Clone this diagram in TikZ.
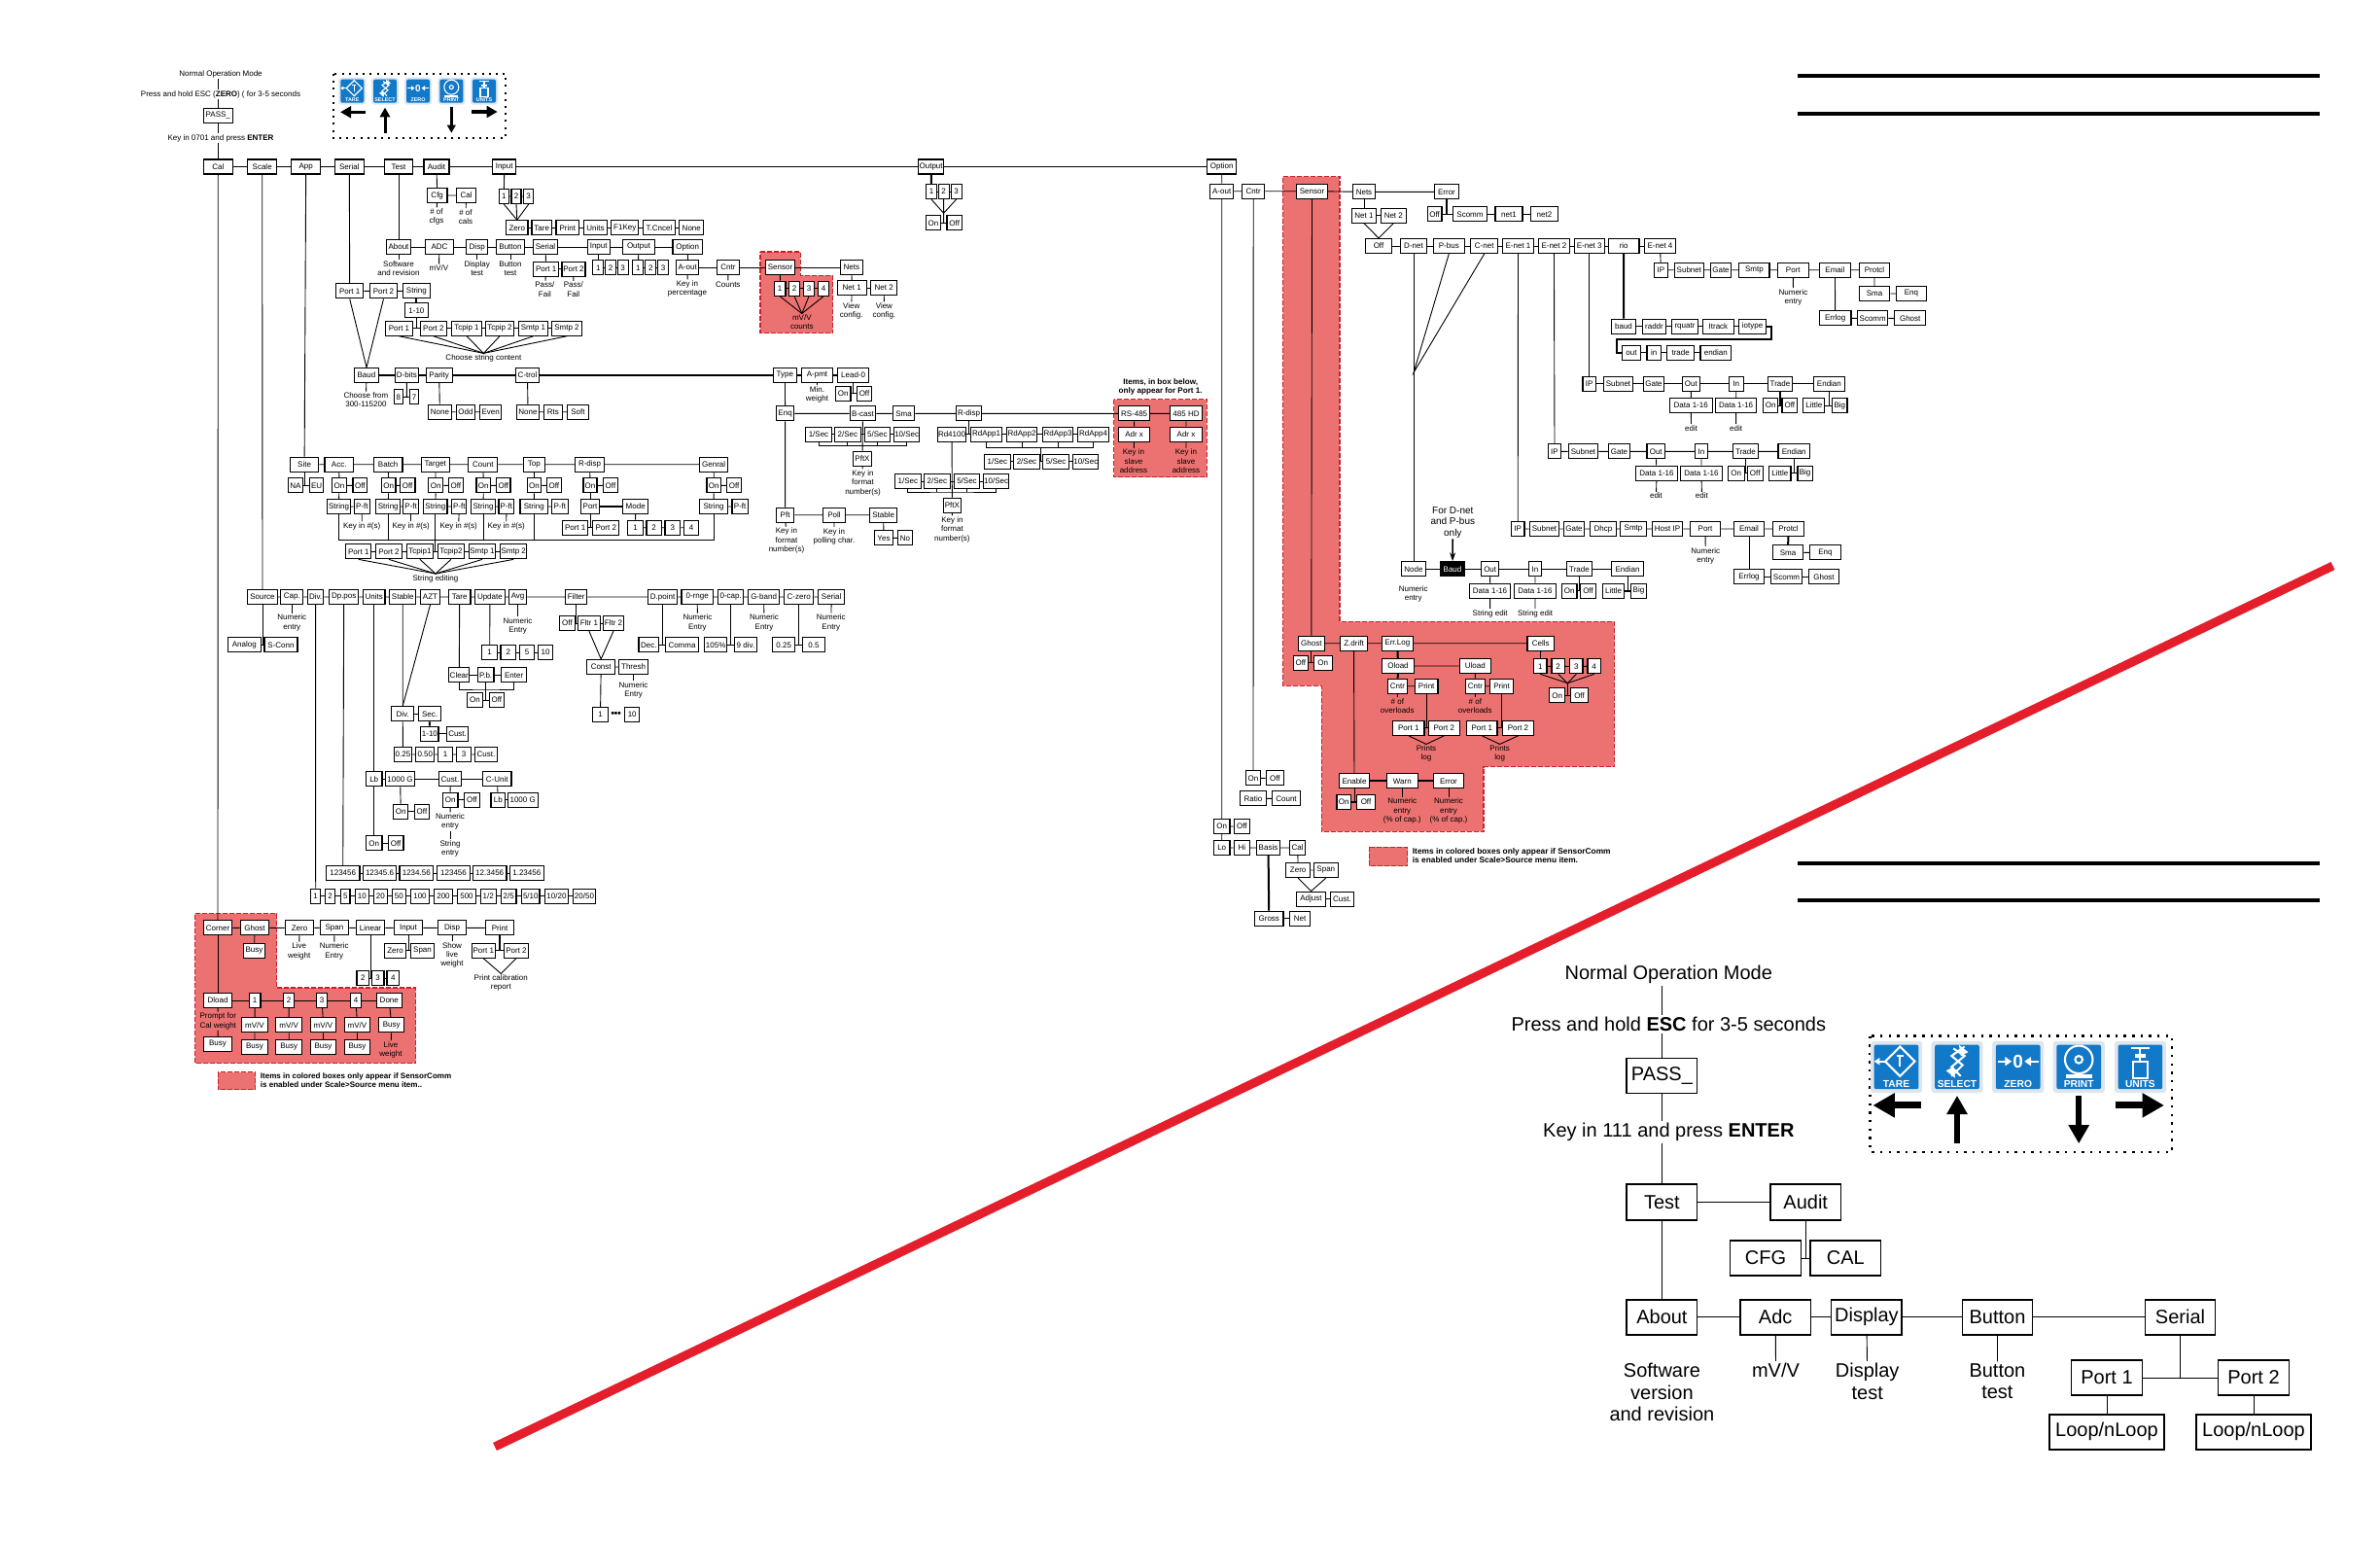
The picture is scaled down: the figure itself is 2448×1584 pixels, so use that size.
\documentclass[tikz,border=0pt]{standalone}
\usepackage{fontspec}
\setmainfont{Liberation Sans}
\usetikzlibrary{arrows.meta}
\definecolor{zonered}{HTML}{EC7272}
\definecolor{zoneedge}{HTML}{C9202F}
\definecolor{slashred}{HTML}{E41E2B}
\definecolor{keyblue}{HTML}{1278C8}
\definecolor{keyhalo}{HTML}{DDE6EE}
\begin{document}
\begin{tikzpicture}[x=1pt,y=-1pt,
  menubox/.style={draw=black,fill=white,line width=1.15pt,inner sep=0pt,minimum height=15pt,font=\fontsize{8}{9.3}\selectfont},
  bigbox/.style={draw=black,fill=white,line width=1.4pt,inner sep=0pt,minimum width=72.5pt,minimum height=36pt,font=\fontsize{20}{22.4}\selectfont},
  notetxt/.style={inner sep=1pt,align=center,font=\fontsize{8}{9.3}\selectfont},
  bignote/.style={inner sep=2pt,align=center,font=\fontsize{20}{22.4}\selectfont},
  wire/.style={line width=0.9pt},
  heavywire/.style={line width=2pt},
  sensorzone/.style={fill=zonered,draw=zoneedge,line width=1.2pt,dash pattern=on 5pt off 2pt},
  legendtxt/.style={anchor=west,inner sep=0pt,align=left,font=\fontsize{#1}{9}\selectfont\bfseries},
  keylabel/.style={inner sep=0pt,text=white,font=\fontsize{5.4}{6}\selectfont\bfseries},
  panelframe/.style={line width=#1,dash pattern=on #1 off 2.6*#1},
  panelarrow/.style={line width=#1,-{Triangle[length=3.2*#1,width=3.4*#1]}}
]

% Canvas size, same pixel grid as the reference
\useasboundingbox (0,0) rectangle (2448,1584);

% --- Row of menu boxes ---
% #1   y of the row
% #2   list of name/x/width/text
\newcommand{\boxrow}[2]{
    \foreach \nm/\cx/\bw/\txt in {#2} {
        \node[menubox,minimum width=\bw pt] (\nm) at (\cx,#1) {\txt};
    }
}
% --- Captions: list of name/x/y/text ---
\newcommand{\noterow}[1]{
    \foreach \nm/\cx/\cy/\txt in {#1} {
        \node[notetxt] (\nm) at (\cx,\cy) {\txt};
    }
}
% --- Front panel key ---
% #1 x, #2 y, #3 scale, #4 label, #5 name, #6 icon
\newcommand{\keycap}[6]{
    \begin{scope}[shift={(#1,#2)},scale=#3,transform shape,line width=#3*1.1pt]
        \fill[keyhalo,rounded corners=3pt] (-14,-14) rectangle (14,14);
        \fill[keyblue,rounded corners=2pt] (-12,-12) rectangle (12,12);
        \node[keylabel] (#5) at (0,9) {#4};
        \begin{scope}[white]
            #6
        \end{scope}
    \end{scope}
}
\newcommand{\tareicon}{
    \draw (2,-11)--(10,-3)--(2,5)--(-6,-3)--cycle;
    \draw (0,-6)--(4,-6) (2,-6)--(2,0);
    \draw (-11,-3)--(-6,-3);
    \fill (-12,-3)--(-9,-5)--(-9,-1)--cycle;
}
\newcommand{\selecticon}{
    \draw (4,-11)--(-3,-6)--(3,-1)--(-3,5);
    \draw (-2,-10)--(4,-6)--(-3,0)--(2,5);
    \fill (1,-12)--(6,-8)--(2,-6)--cycle;
    \fill (-1,6)--(-6,2)--(-2,0)--cycle;
}
\newcommand{\zeroicon}[1]{
    \node[keylabel,font=\fontsize{10}{10}\selectfont\bfseries] (#1) at (0,-3) {0};
    \draw (-11,-3)--(-6,-3) (11,-3)--(6,-3);
    \fill (-3.5,-3)--(-7,-5.5)--(-7,-0.5)--cycle;
    \fill (3.5,-3)--(7,-5.5)--(7,-0.5)--cycle;
}
\newcommand{\printicon}{
    \draw (0,-4) circle (7.5);
    \draw (0,-4) circle (2);
    \fill (-7,4) rectangle (7,6);
}
\newcommand{\unitsicon}{
    \draw (-4,-3) rectangle (4,6);
    \draw (-5,-10)--(5,-10) (0,-10)--(0,-3);
    \fill (-3,-7) rectangle (3,-5);
}

% --- Slash and rules ---
\draw[slashred,line width=9pt] (509,1488) -- (2399.5,582);
\foreach \ry in {78,117,888.3,925.8} {
    \draw[line width=4pt] (1848.6,\ry) -- (2385.6,\ry);
}

% --- SensorComm zones ---
\draw[sensorzone] (200.7,939.7) -- (284.7,939.7) -- (284.7,1016) -- (427.7,1016) -- (427.7,1093.7) -- (200.7,1093.7) -- cycle;
\draw[sensorzone] (782,259) -- (823.2,259) -- (823.2,283.3) -- (856.5,283.3) -- (856.5,342.7) -- (782,342.7) -- cycle;
\draw[sensorzone] (1145.5,410.7) rectangle (1241.2,490.7);
\draw[sensorzone] (1319.5,181.7) -- (1378,181.7) -- (1378,639.3) -- (1660.7,639.3) -- (1660.7,788.7) -- (1526,788.7) -- (1526,855.3) -- (1359.3,855.3) -- (1359.3,705.3) -- (1319.5,705.3) -- cycle;
\draw[sensorzone] (224.3,1102.7) rectangle (262.7,1120.7);
\draw[sensorzone] (1408.3,871.3) rectangle (1447.7,890.7);
\node[legendtxt=8.05] (legcal) at (267.7,1111.2) {Items in colored boxes only appear if SensorComm\\is enabled under Scale>Source menu item..};
\node[legendtxt=8.35] (legopt) at (1452.7,880.5) {Items in colored boxes only appear if SensorComm\\is enabled under Scale>Source menu item.};
\node[notetxt,font=\fontsize{8.1}{9.3}\selectfont\bfseries] (legport) at (1193.7,397.7) {Items, in box below,\\only appear for Port 1.};

% --- Small key panel ---
\draw[panelframe=2pt] (342.7,76) rectangle (520,141.7);
\keycap{362.3}{93.7}{1}{TARE}{smtare}{\tareicon}
\keycap{396}{93.7}{1}{SELECT}{smselect}{\selecticon}
\keycap{430}{93.7}{1}{ZERO}{smzero}{\zeroicon{smzeroglyph}}
\keycap{464.3}{93.7}{1}{PRINT}{smprint}{\printicon}
\keycap{498}{93.7}{1}{UNITS}{smunits}{\unitsicon}
\draw[panelarrow=3.5pt] (376,115.3) -- (350,115.3);
\draw[panelarrow=3pt] (396,136.7) -- (396,110.7);
\draw[panelarrow=2.5pt] (464.3,110) -- (464.3,136.7);
\draw[panelarrow=3.5pt] (485,115) -- (511.7,115);

% --- Large key panel ---
\draw[panelframe=2.4pt] (1923.6,1065.5) rectangle (2234,1184.8);
\keycap{1950.5}{1097.4}{1.9}{TARE}{bgtare}{\tareicon}
\keycap{2013}{1097.4}{1.9}{SELECT}{bgselect}{\selecticon}
\keycap{2075.7}{1097.4}{1.9}{ZERO}{bgzero}{\zeroicon{bgzeroglyph}}
\keycap{2138.2}{1097.4}{1.9}{PRINT}{bgprint}{\printicon}
\keycap{2201.4}{1097.4}{1.9}{UNITS}{bgunits}{\unitsicon}
\draw[panelarrow=7pt] (1976.4,1136.9) -- (1926.4,1136.9);
\draw[panelarrow=6pt] (2013,1176.2) -- (2013,1126.9);
\draw[panelarrow=6pt] (2138.2,1126.9) -- (2138.2,1176.2);
\draw[panelarrow=7pt] (2176.1,1136.9) -- (2226,1136.9);

% --- Entry at top left ---
\noterow{normaltxt/227/76/Normal Operation Mode,
  presstxt/227/97/Press and hold ESC (\textbf{ZERO}) ( for 3-5 seconds,
  keytxt/227/142/Key in 0701 and press \textbf{ENTER}}
\boxrow{118.7}{passbox/224.3/30/PASS\_}

% --- Main menu row ---
\boxrow{171.5}{cal/224.3/30/Cal,scale/269.7/30/Scale,app/314.7/30/App,serial/359.3/30/Serial,test/410/29/Test,audit/449/26/Audit,input/518.7/24/Input,output/957.6/26/Output,option/1256.7/30/Option}
\draw[wire] (passbox |- normaltxt.south) -- (passbox |- presstxt.north);
\draw[wire] (passbox |- presstxt.south) -- (passbox.north);
\draw[wire] (passbox.south) -- (passbox |- keytxt.north);
\draw[wire] (passbox |- keytxt.south) -- (cal.north);
\draw[wire] (cal) -- (scale) -- (app) -- (serial) -- (test) -- (audit) -- (input) -- (output) -- (option);

% --- Audit and Input ---
\boxrow{201}{cfg/449.7/20.7/Cfg,calcount/479.5/20/Cal}
\noterow{cfgnote/449/223/\# of\\cfgs,calnote/479/223/\# of\\cals}
\boxrow{202}{inone/518.3/10/1,intwo/531/10/2,inthree/543.7/10/3}
\boxrow{234.3}{inzero/531.8/22.4/Zero,intare/557.2/20.5/Tare,inprint/583.8/23.6/Print,inunits/612.5/24/Units,inf1key/642.8/28/F1Key,intcncel/678/33.5/T.Cncel,innone/711.3/25/None}
\draw[wire] (audit) -- (cfg) -- (calcount) (cfg) -- (cfgnote) (calcount) -- (calnote);
\draw[wire] (input) -- (inone) -- (intwo) -- (inthree);
\foreach \nm in {inone,intwo,inthree} {
    \draw[wire] (\nm.south) -- (inzero.north);
}
\draw[wire] (inzero) -- (intare) -- (inprint) -- (inunits) -- (inf1key) -- (intcncel) -- (innone);

% --- Test branch ---
\boxrow{254}{about/410/24.5/About,adc/452/29/ADC,disp/490.7/22.3/Disp,button/525/29/Button,tser/561/24.5/Serial,tin/615.7/23/Input,tout/657/32.6/Output,topt/707.2/30.4/Option}
\noterow{aboutnote/410/276/Software\\and revision,adcnote/451.4/275.7/{mV/V},dispnote/490.7/276/Display\\test,buttonnote/525/276/Button\\test}
\boxrow{276.7}{tsport1/561.7/26/Port 1,tsport2/590/24/Port 2}
\noterow{tsnote1/560.4/297.7/{Pass/\\Fail},tsnote2/589.8/297.7/{Pass/\\Fail}}
\boxrow{275.3}{tinone/615.3/11/1,tintwo/628.2/11/2,tinthree/640.7/11/3,toutone/656.3/11/1,touttwo/669.3/11/2,toutthree/682.2/11/3}
\boxrow{275}{taout/707.2/23/A-out,tcntr/749/22.8/Cntr,tsensor/802.5/30/Sensor,tnets/875.9/23.3/Nets}
\noterow{taoutnote/707/297/Key in\\percentage,tcntrnote/748.8/292.3/Counts}
\boxrow{296.7}{tsone/802.2/11.5/1,tstwo/817.1/11.5/2,tsthree/832/11.5/3,tsfour/847/11.5/4}
\noterow{tsmvnote/824.8/331.3/{mV/V\\counts},tnet1note/875.7/320/View\\config.,tnet2note/909.4/320/View\\config.}
\boxrow{296}{tnet1/876.2/30/Net 1,tnet2/909.2/27/Net 2}
\draw[wire] (test) -- (about) -- (adc) -- (disp) -- (button) -- (tser) -- (tin) -- (tout) -- (topt);
\foreach \a/\b in {about/aboutnote,adc/adcnote,disp/dispnote,button/buttonnote,tser/tsport1,tsport1/tsnote1,tsport2/tsnote2,tin/tinone,tout/toutone,topt/taout,taout/taoutnote,tcntr/tcntrnote,tsensor/tsone,tnets/tnet1,tnet1/tnet1note,tnet2/tnet2note} {
    \draw[wire] (\a) -- (\b);
}
\draw[wire] (tsport1) -- (tsport2);
\draw[wire] (tinone) -- (tintwo) -- (tinthree);
\draw[wire] (toutone) -- (touttwo) -- (toutthree);
\draw[wire] (taout) -- (tcntr) -- (tsensor) -- (tnets);
\draw[wire] (tsone) -- (tstwo) -- (tsthree) -- (tsfour) (tnet1) -- (tnet2);
\foreach \nm in {tsone,tstwo,tsthree,tsfour} {
    \draw[wire] (\nm.south) -- (tsmvnote.north);
}

% --- Output and Option heads ---
\boxrow{197}{outone/958/11/1,outtwo/970.6/11/2,outthree/983.6/11/3}
\boxrow{229.3}{outon/959.9/15/On,outoff/981.7/15.3/Off}
\coordinate (outmeet) at (970.6,219.3);
\draw[heavywire] (output) -- (outone);
\draw[wire] (outone) -- (outtwo) -- (outthree) (outon) -- (outoff);
\draw[wire] (outone.south) -- (outmeet) -- (outthree.south) (outtwo.south) -- (outtwo |- outon);

% --- Serial branch ---
\boxrow{299.3}{sport1/359.7/28/Port 1,sport2/394.5/28/Port 2,sstring/428.4/28/String}
\boxrow{319.3}{sonetoten/428.4/23.7/1-10}
\boxrow{337.7}{stport1/410.5/28/Port 1,stport2/445.9/27.3/Port 2,sttcp1/480/30.4/Tcpip 1,sttcp2/514/29/Tcpip 2,stsmtp1/548.5/30/Smtp 1,stsmtp2/583/31/Smtp 2}
\noterow{choosenote/497.4/368.3/Choose string content,baudnote/376.4/411.3/Choose from\\300-115200}
\boxrow{386}{sbaud/377/24.5/Baud,dbits/418.4/24/D-bits,parity/451.7/27.2/Parity,ctrol/542.5/23.2/C-trol,stype/807.4/23.7/Type,apmt/840.5/32/A-pmt,leadzero/877.6/32/Lead-0}
\boxrow{408.3}{dbeight/409.9/9.4/8,dbseven/426/9.4/7}
\boxrow{423.7}{pnone/452.4/24/None,podd/478.9/19.2/Odd,peven/504.7/21.9/Even,cnone/543/23.3/None,crts/568.8/18.7/Rts,csoft/594.5/21.8/Soft}
\noterow{apmtnote/840.5/405.7/Min.\\weight}
\boxrow{404.7}{leadon/867.3/15.3/On,leadoff/889/15.3/Off}
\draw[wire] (serial) -- (sport1) -- (sport2) -- (sstring);
\draw[heavywire] (sstring) -- (sonetoten);
\draw[wire] (sonetoten) -- (sonetoten |- stport1);
\draw[wire] (stport1) -- (stport2) -- (sttcp1) -- (sttcp2) -- (stsmtp1) -- (stsmtp2);
\foreach \nm in {stport1,stport2,sttcp1,sttcp2,stsmtp1,stsmtp2} {
    \draw[wire] (\nm.south) -- (choosenote.north);
}
\draw[wire] (sport1.south) -- (sbaud.north) (sport2.south) -- (sbaud.north);
\draw[heavywire] (sbaud) -- (dbits) -- (parity) -- (ctrol) -- (stype) -- (apmt) -- (leadzero);
\draw[wire] (sbaud) -- (baudnote) (dbits) -- (dbits |- dbeight) (dbeight) -- (dbseven);
\draw[wire] (parity) -- (pnone) -- (podd) -- (peven);
\draw[wire] (ctrol) -- (cnone) -- (crts) -- (csoft);
\draw[wire] (apmt) -- (apmtnote) (leadzero) -- (leadzero |- leadon) (leadon) -- (leadoff);

% --- Enq, B-cast, R-disp ---
\boxrow{425.3}{enq/807.6/18.3/Enq,bcast/887.5/26.8/B-cast,sma/929.5/22.5/Sma,rdisp/996.6/26/R-disp,rsport/1166.6/32/RS-485,hdport/1220/33/485 HD}
\boxrow{446.7}{bcsec1/842/26.8/{1/Sec},bcsec2/871.9/26.8/{2/Sec},bcsec3/902.3/26.4/{5/Sec},bcsec4/932.7/26/{10/Sec},rdfour/979/28.7/Rd4100,rdapp1/1014.6/32/RdApp1,rdapp2/1051/31.8/RdApp2,rdapp3/1088/31.4/RdApp3,rdapp4/1124.6/31.8/RdApp4,rsadr/1166.6/32/Adr x,hdadr/1220/33/Adr x}
\noterow{rsnote/1166/474.3/Key in\\slave\\address,hdnote/1220/474.3/Key in\\slave\\address}
\boxrow{471.7}{bcpftx/887/18.7/PftX}
\noterow{bcnote/887.5/496.7/Key in\\format\\number(s)}
\boxrow{474.7}{rasec1/1025.9/26.4/{1/Sec},rasec2/1056/27.2/{2/Sec},rasec3/1086.2/26.8/{5/Sec},rasec4/1116.8/26/{10/Sec}}
\boxrow{495}{rdsec1/933.9/26.8/{1/Sec},rdsec2/963.9/27.2/{2/Sec},rdsec3/994.5/26.4/{5/Sec},rdsec4/1024.6/26/{10/Sec}}
\boxrow{519.7}{rdpftx/979.4/18.4/PftX}
\noterow{rdnote/979.4/544.7/Key in\\format\\number(s)}
\boxrow{529.7}{pft/807.6/18.3/Pft,poll/858/23/Poll,stable/908.6/27.6/Stable}
\boxrow{553.3}{stableyes/909/19/Yes,stableno/931/15.3/No}
\noterow{pftnote/809/556/Key in\\format\\number(s),pollnote/858/551.7/Key in\\polling char.}
\coordinate (bcbar) at (887.5,458.3);
\coordinate (rabar) at (1070,460.3);
\coordinate (rdbar) at (979.4,506);
\draw[wire] (stype) -- (enq) -- (bcast) -- (sma) -- (rdisp) -- (rsport) -- (hdport);
\draw[wire] (enq) -- (pft) -- (poll) -- (stable) -- (stableyes) -- (stableno);
\draw[wire] (pft) -- (pftnote) (poll) -- (pollnote);
\draw[wire] (bcsec1) -- (bcsec2) -- (bcsec3) -- (bcsec4);
\draw[wire] (bcsec1.south) |- (bcbar) -| (bcsec4.south);
\draw[wire] (bcsec2.south) -- (bcsec2 |- bcbar) (bcsec3.south) -- (bcsec3 |- bcbar);
\draw[wire] (bcast) -- (bcpftx) -- (bcnote);
\draw[wire] (rdisp) -- (rdisp |- rdapp1);
\draw[wire] (rdfour) -- (rdapp1) -- (rdapp2) -- (rdapp3) -- (rdapp4);
\draw[wire] (rdapp1.south) |- (rabar) -| (rdapp4.south);
\draw[wire] (rdapp2.south) -- (rdapp2 |- rabar) (rdapp3.south) -- (rdapp3 |- rabar);
\draw[wire] (rabar) -- (rabar |- rasec2);
\draw[wire] (rasec1) -- (rasec2) -- (rasec3) -- (rasec4);
\draw[wire] (rdfour) -- (rdpftx) -- (rdnote);
\draw[wire] (rdsec1) -- (rdsec2) -- (rdsec3) -- (rdsec4);
\draw[wire] (rdsec1.south) |- (rdbar) -| (rdsec4.south);
\draw[wire] (rdsec2.south) -- (rdsec2 |- rdbar) (rdsec3.south) -- (rdsec3 |- rdbar);
\draw[wire] (rsport) -- (rsadr) -- (rsnote) (hdport) -- (hdadr) -- (hdnote);

% --- App branch ---
\boxrow{477.7}{site/313.1/29.4/Site,acc/348.7/29.4/Acc.,batch/399.2/29.5/Batch,target/447.8/28.7/Target,count/496.8/30.2/Count,topw/549.4/22.2/Top,ardisp/606.6/29.5/R-disp,genral/734.2/29.1/Genral}
\boxrow{499.3}{sitena/304/14.6/NA,siteeu/325.7/14.1/EU,aon1/348.9/15.3/On,aoff1/370.3/14.6/Off,aon2/399.8/14.5/On,aoff2/419.2/15.7/Off,aon3/448.2/15/On,aoff3/468.9/14.9/Off,aon4/497.3/14.6/On,aoff4/517.9/14.1/Off,aon5/549.5/14.5/On,aoff5/569.9/15/Off,aon6/607/14.1/On,aoff6/628/14.9/Off,aon7/734.3/14.5/On,aoff7/755.1/14.9/Off}
\boxrow{521}{astr1/348.5/23.8/String,apft1/372.3/16/P-ft,astr2/399.2/24.8/String,apft2/422.7/16/P-ft,astr3/447.9/24.1/String,apft3/472.3/15/P-ft,astr4/497.1/24.9/String,apft4/520.9/15.8/P-ft,astr5/549.3/28.7/String,apft5/575.8/16.8/P-ft,aport/607/19.5/Port,amode/653.7/25.6/Mode,astr7/734/28.7/String,apft7/761.2/16.5/P-ft}
\noterow{keynote1/372.2/541.3/Key in \#(s),keynote2/422.7/541.3/Key in \#(s),keynote3/471.7/541.3/Key in \#(s),keynote4/520.7/541.3/Key in \#(s)}
\boxrow{542.7}{aport1/591.7/25.6/Port 1,aport2/623.3/26.8/Port 2,amodeone/653.5/15.3/1,amodetwo/672.7/15.3/2,amodethree/691.9/15.8/3,amodefour/711/15.3/4}
\boxrow{567.3}{edport1/368.8/26/Port 1,edport2/400/27.2/Port 2,edtcp1/432/27.2/Tcpip1,edtcp2/463.9/27.2/Tcpip2,edsmtp1/496/27.2/Smtp 1,edsmtp2/528.2/27.2/Smtp 2}
\noterow{editnote/448/595/String editing}
\coordinate (appbus) at (448,555.3);
\draw[wire] (app) -- (site) -- (acc) -- (batch) -- (target) -- (count) -- (topw) -- (ardisp) -- (genral);
\draw[wire] (site) -- (site |- sitena) (sitena) -- (siteeu);
\foreach \a/\i in {acc/1,batch/2,target/3,count/4,topw/5,ardisp/6,genral/7} {
    \draw[wire] (\a) -- (aon\i) -- (aoff\i);
}
\foreach \i in {1,2,3,4,5,7} {
    \draw[wire] (aon\i) -- (astr\i) -- (apft\i);
}
\foreach \i in {1,2,3,4} {
    \draw[wire] (apft\i) -- (keynote\i);
}
\draw[wire] (aon6) -- (aport);
\draw[heavywire] (aport) -- (amode);
\draw[wire] (aport) -- (aport |- aport1) (aport1) -- (aport2);
\draw[wire] (amode) -- (amodeone) -- (amodetwo) -- (amodethree) -- (amodefour);
\draw[wire] (astr1.south) |- (appbus) -| (astr7.south);
\foreach \i in {2,4,5} {
    \draw[wire] (astr\i.south) -- (astr\i |- appbus);
}
\draw[wire] (astr3.south) -- (astr3 |- edport1);
\draw[wire] (edport1) -- (edport2) -- (edtcp1) -- (edtcp2) -- (edsmtp1) -- (edsmtp2);
\foreach \nm in {edport1,edport2,edtcp1,edtcp2,edsmtp1,edsmtp2} {
    \draw[wire] (\nm.south) -- (editnote.north);
}

% --- Scale branch ---
\boxrow{614}{source/270/31/Source,cap/300.3/23/Cap.,sdiv/324.6/16.4/Div.,dppos/353.7/30.2/Dp.pos,units/384.7/22.6/Units,sstable/414.3/26.8/Stable,azt/442.5/20.3/AZT,tare/472.7/22.6/Tare,update/503.9/30.6/Update,avg/532.6/18.4/Avg,filter/592.7/22.2/Filter,dpoint/681.6/30.3/D.point,zrnge/717.2/32.5/0-rnge,zcap/751.7/25.6/0-cap.,gband/785.6/32.1/G-band,czero/821.7/30.2/C-zero,sserial/855.2/26.8/Serial}
\boxrow{663.3}{analog/251.3/34/Analog,sconn/289/34/S-Conn,dec/667.3/20.6/Dec.,comma/701.5/34/Comma,capover/736.2/23/105\%,capdiv/767/22.6/9 div.,czlow/806.2/23/0.25,czhigh/837/23.4/0.5}
\noterow{capnote/300.3/640.3/Numeric\\entry,avgnote/532.6/644/Numeric\\Entry,rngenote/717.4/640.3/Numeric\\Entry,gbandnote/786/640.3/Numeric\\Entry,sernote/854.8/640.3/Numeric\\Entry}
\boxrow{641}{fltoff/583.5/15.3/Off,fltone/605.9/22.6/Fltr 1,flttwo/631/20.7/Fltr 2}
\boxrow{671}{upone/503.7/15.7/1,uptwo/522.8/15.7/2,upfive/542/15.7/5,upten/561/15.4/10}
\boxrow{694.3}{tclear/472.3/21/Clear,tpb/499.6/16.8/P.b.,tenter/528.6/26.4/Enter}
\boxrow{720}{tareon/488.5/15.3/On,tareoff/510.8/15.3/Off}
\boxrow{686}{fconst/618.2/28.7/Const,fthresh/651.6/29.8/Thresh}
\noterow{threshnote/651.6/710/Numeric\\Entry}
\boxrow{735}{fone/617.5/15.3/1,ften/650.2/15/10}
\node[notetxt,font=\fontsize{11}{11}\selectfont] (fdots) at (633.6,735) {\textbullet\kern-0.5pt\textbullet\kern-0.5pt\textbullet};
\boxrow{734.3}{stdiv/414.2/23.3/Div.,stsec/442/22.6/Sec.}
\boxrow{754.7}{secrange/441.9/18.3/1-10,seccust/470.6/22.2/Cust.}
\boxrow{776}{dva/414.5/18.8/0.25,dvb/437.3/19.2/0.50,dvc/458.1/15/1,dvd/477.2/15/3,dve/500/23/Cust.}
\boxrow{801.3}{ulb/384.7/16.5/Lb,ukg/411.6/30.6/1000 G,ucust/463/23.4/Cust.,ucunit/511.3/29.4/C-Unit}
\boxrow{834.7}{ukon/412.3/15/On,ukoff/434/15/Off}
\boxrow{822.7}{ucon/463.3/15.3/On,ucoff/485.3/15.7/Off,cunitlb/512.3/14.6/Lb,cunitkg/537.7/31/1000 G}
\noterow{uconnote/463/845/Numeric\\entry,ustrnote/463/872.7/String\\entry}
\boxrow{867.3}{ulbon/384.7/16.5/On,ulboff/407.2/15.7/Off}
\boxrow{898}{dpa/352.7/34.7/123456,dpb/390.5/34.3/12345.6,dpc/428.3/34.5/1234.56,dpd/466.5/34.4/123456,dpe/503.7/34.7/12.3456,dpf/541.8/35/1.23456}
\boxrow{921.7}{dsa/324.7/10/1,dsb/339.7/10/2,dsc/355.3/9.3/5,dsd/372.3/14/10,dse/391.3/14/20,dsf/410.3/14/50,dsg/432/19.4/100,dsh/456/19.4/200,dsi/480/19.4/500,dsj/502.3/16/{1/2},dsk/523.2/15.7/{2/5},dsl/545.8/18.3/{5/10},dsm/572.5/24.4/{10/20},dsn/601/23.4/{20/50}}
\draw[wire] (scale) -- (source) -- (cap) -- (sdiv) -- (dppos) -- (units) -- (sstable) -- (azt) -- (tare) -- (update) -- (avg) -- (filter) -- (dpoint) -- (zrnge) -- (zcap) -- (gband) -- (czero) -- (sserial);
\draw[wire] (source) -- (source |- analog) (analog) -- (sconn);
\foreach \a/\b in {cap/capnote,avg/avgnote,zrnge/rngenote,gband/gbandnote,sserial/sernote,sdiv/dsa,dppos/dpa,units/ulb,sstable/stdiv,tare/tclear,update/upone,fconst/fone,fthresh/threshnote,ulb/ulbon,ukg/ukon,ucust/ucon,ucon/uconnote,uconnote/ustrnote,ucunit/cunitlb} {
    \draw[wire] (\a) -- (\b);
}
\draw[wire] (dpoint) -- (dpoint |- dec) (dec) -- (comma);
\draw[wire] (zcap) -- (zcap |- capover) (capover) -- (capdiv);
\draw[wire] (czero) -- (czero |- czlow) (czlow) -- (czhigh);
\draw[wire] (filter) -- (filter |- fltoff) (fltoff) -- (fltone) -- (flttwo);
\draw[wire] (fltone.south) -- (fconst.north) (flttwo.south) -- (fconst.north) (fconst) -- (fthresh);
\draw[wire] (upone) -- (uptwo) -- (upfive) -- (upten);
\coordinate (tarebar) at (499.7,709);
\draw[wire] (tclear) -- (tpb) -- (tenter);
\draw[wire] (tclear.south) |- (tarebar) -| (tenter.south);
\draw[wire] (tpb.south) -- (tpb |- tareon) (tareon) -- (tareoff);
\draw[wire] (azt.south) -- (stdiv.north);
\draw[wire] (stdiv) -- (stsec) (secrange) -- (seccust);
\draw[heavywire] (stsec) -- (secrange);
\draw[wire] (stdiv) -- (dva) -- (dvb) -- (dvc) -- (dvd) -- (dve);
\draw[wire] (ulb) -- (ukg) -- (ucust) -- (ucunit);
\draw[wire] (ulbon) -- (ulboff) (ukon) -- (ukoff) (ucon) -- (ucoff) (cunitlb) -- (cunitkg);
\draw[wire] (dpa) -- (dpb) -- (dpc) -- (dpd) -- (dpe) -- (dpf);
\draw[wire] (dsa) -- (dsb) -- (dsc) -- (dsd) -- (dse) -- (dsf) -- (dsg) -- (dsh) -- (dsi) -- (dsj) -- (dsk) -- (dsl) -- (dsm) -- (dsn);

% --- Cal branch ---
\boxrow{954.3}{corner/224/29.4/Corner,cghost/262/29.4/Ghost,czeroc/308/29.4/Zero,cspan/344/29.4/Span,clinear/381/29.4/Linear,cinput/420/29.4/Input,cdisp/465/29.4/Disp,cprint/514/29.4/Print}
\boxrow{977.7}{cbusy/261.5/22.4/Busy,cizero/406.5/22.4/Zero,cispan/434.5/24.4/Span,cpport1/497.3/24/Port 1,cpport2/531/24.6/Port 2}
\noterow{clivenote/307.7/978.3/Live\\weight,cspannote/343.7/978.3/Numeric\\Entry,cshownote/465/982.3/Show\\live\\weight,cprintnote/515.3/1011/Print calibration\\report}
\boxrow{1006}{lintwo/373.3/12.5/2,linthree/388.7/12.5/3,linfour/404.3/12.5/4}
\boxrow{1029}{dload/224/29.4/Dload,dlone/262.2/11.7/1,dltwo/297/11.4/2,dlthree/331.2/11/3,dlfour/366/11.4/4,dldone/400.3/26/Done}
\boxrow{1054.3}{dmv1/262/27.4/{mV/V},dmv2/297.2/27/{mV/V},dmv3/332.5/26.4/{mV/V},dmv4/367.5/26.4/{mV/V},dmbusy/402.7/26/Busy}
\boxrow{1077}{dbusy1/262/27.4/Busy,dbusy2/297.2/27/Busy,dbusy3/332.5/26.4/Busy,dbusy4/367.5/26.4/Busy}
\boxrow{1074}{dlbusy/224/29.4/Busy}
\noterow{dpromptnote/224.3/1050.3/Prompt for\\Cal weight,dlivenote/402/1080/Live\\weight}
\draw[wire] (cal) -- (corner) -- (cghost) -- (czeroc) -- (cspan) -- (clinear) -- (cinput) -- (cdisp) -- (cprint);
\foreach \a/\b in {cghost/cbusy,czeroc/clivenote,cspan/cspannote,cdisp/cshownote,corner/dload,dload/dpromptnote,dpromptnote/dlbusy,dmbusy/dlivenote} {
    \draw[wire] (\a) -- (\b);
}
\draw[wire] (clinear) -- (clinear |- lintwo) (lintwo) -- (linthree) -- (linfour);
\draw[wire] (cinput) -- (cinput |- cizero) (cizero) -- (cispan);
\draw[heavywire] (cprint) -- (cprint |- cpport1);
\draw[wire] (cpport1) -- (cpport2);
\draw[wire] (cpport1.south) -- (cprintnote.north) (cpport2.south) -- (cprintnote.north);
\draw[wire] (dload) -- (dlone) -- (dltwo) -- (dlthree) -- (dlfour) -- (dldone);
\foreach \a/\i in {dlone/1,dltwo/2,dlthree/3,dlfour/4} {
    \draw[wire] (\a) -- (dmv\i) -- (dbusy\i);
}
\draw[wire] (dldone) -- (dmbusy);

% --- Option branch ---
\boxrow{196.7}{oaout/1256.7/24/A-out,ocntr/1289.2/23.4/Cntr,osensor/1349.5/31.4/Sensor}
\boxrow{197.3}{onets/1403/23.2/Nets,oerror/1488/25/Error}
\boxrow{800.3}{cntron/1289/15/On,cntroff/1311.3/18/Off}
\boxrow{821.3}{ratio/1289/26.7/Ratio,rcount/1323/29.3/Count}
\boxrow{850}{aouton/1256.7/16.7/On,aoutoff/1277.3/16.3/Off}
\boxrow{872}{lo/1256.7/16.7/Lo,hi/1277.3/16.3/Hi,basis/1304.5/24.3/Basis,bcal/1334.7/16/Cal}
\boxrow{895}{bzero/1335.2/25/Zero,bspan/1363.8/25/Span}
\boxrow{924.7}{adjust/1348.5/29.7/Adjust,adjcust/1380.5/24.3/Cust.}
\boxrow{944.7}{gross/1305.3/29.3/Gross,net/1337/20.7/Net}
\draw[wire] (option) -- (oaout) -- (ocntr) -- (osensor) -- (onets) -- (oerror);
\draw[wire] (oaout) -- (aouton) -- (aoutoff) (aouton) -- (lo) -- (hi) -- (basis) -- (bcal) -- (bzero) -- (bspan);
\draw[wire] (ocntr) -- (cntron) -- (cntroff) (ratio) -- (rcount);
\draw[heavywire] (basis) -- (gross);
\draw[wire] (gross) -- (net) (adjust) -- (adjcust);
\draw[wire] (bzero.south) -- (adjust.north) (bspan.south) -- (adjust.north);

% --- Sensor zone ---
\boxrow{661.7}{zghost/1348.8/27/Ghost,zdrift/1392.5/28.3/Z.drift,zerrlog/1437.3/32/Err.Log,zcells/1584.7/27.3/Cells}
\boxrow{681.7}{ghoff/1337.8/15/Off,ghon/1360.8/19/On}
\boxrow{685}{oload/1438/32.7/Oload,uload/1517.3/32/Uload}
\boxrow{705.7}{olcntr/1437.5/19.7/Cntr,olprint/1467.2/23.7/Print,ulcntr/1517.5/19.7/Cntr,ulprint/1544.5/23.7/Print}
\noterow{olnote/1437.3/726/\# of\\overloads,ulnote/1517.3/726/\# of\\overloads,olprintnote/1467/775/Prints\\log,ulprintnote/1542.7/775/Prints\\log}
\boxrow{748.7}{olport1/1448.8/32.3/Port 1,olport2/1485.3/32/Port 2,ulport1/1524.3/31.5/Port 1,ulport2/1561.5/31.5/Port 2}
\boxrow{685.3}{cellone/1584.3/13.3/1,celltwo/1602.7/13.3/2,cellthree/1621.3/13.3/3,cellfour/1639.7/13.3/4}
\boxrow{715.3}{cellon/1601.7/16/On,celloff/1624.5/18.3/Off}
\coordinate (cellmeet) at (1612.3,702.7);
\boxrow{803.3}{zenable/1393/30.7/Enable,zwarn/1442.3/32/Warn,zerror/1490/30.7/Error}
\boxrow{824.7}{enon/1382.3/14.7/On,enoff/1405/19.3/Off}
\noterow{warnnote/1442.3/834/Numeric\\entry\\(\% of cap.),errornote/1490/834/Numeric\\entry\\(\% of cap.)}
\draw[wire] (osensor) -- (zghost) -- (zdrift) -- (zerrlog) -- (zcells);
\draw[wire] (zghost) -- (zghost |- ghoff) (ghoff) -- (ghon);
\draw[wire] (zdrift) -- (zenable);
\draw[heavywire] (zenable) -- (zwarn) -- (zerror);
\draw[wire] (zenable) -- (zenable |- enon);
\draw[heavywire] (enon) -- (enoff);
\draw[wire] (zwarn) -- (warnnote) (zerror) -- (errornote);
\draw[heavywire] (zerrlog) -- (oload) -- (olcntr);
\draw[wire] (oload) -- (uload) -- (ulcntr) -- (ulprint) (olcntr) -- (olprint);
\draw[wire] (olcntr) -- (olnote) (ulcntr) -- (ulnote);
\draw[wire] (olprint) -- (olprint |- olport1) (olport1) -- (olport2);
\draw[wire] (ulprint) -- (ulprint |- ulport1) (ulport1) -- (ulport2);
\draw[wire] (olport1.south) -- (olprintnote.north) (olport2.south) -- (olprintnote.north);
\draw[wire] (ulport1.south) -- (ulprintnote.north) (ulport2.south) -- (ulprintnote.north);
\draw[wire] (zcells) -- (cellone) -- (celltwo) -- (cellthree) -- (cellfour);
\foreach \nm in {cellone,celltwo,cellthree,cellfour} {
    \draw[wire] (\nm.south) -- (cellmeet);
}
\draw[wire] (cellmeet) -- (cellmeet |- cellon) (cellon) -- (celloff);

% --- Nets ---
\boxrow{221.7}{nnet1/1403/25/Net 1,nnet2/1433.3/26/Net 2}
\boxrow{220.3}{eoff/1475.6/14.7/Off,escomm/1512/35/Scomm,enet1/1552/28/net1,enet2/1588.5/28/net2}
\boxrow{253}{noff/1418/27.2/Off,dnet/1454/27.3/D-net,pbus/1490.3/31.7/P-bus,cnet/1526.7/27.6/C-net,eone/1561.5/32/E-net 1,etwo/1598.4/31.7/E-net 2,ethree/1634.7/31/E-net 3,rio/1670.2/31.7/rio,efour/1707.5/32/E-net 4}
\coordinate (busmeet) at (1454,383.3);
\draw[wire] (onets) -- (nnet1) -- (nnet2);
\draw[wire] (nnet1.south) -- (noff.north) (nnet2.south) -- (noff.north);
\draw[heavywire] (oerror) -- (oerror |- eoff);
\draw[wire] (eoff) -- (escomm) -- (enet1) -- (enet2);
\draw[wire] (noff) -- (dnet) -- (pbus) -- (cnet) -- (eone) -- (etwo) -- (ethree) -- (rio) -- (efour);
\draw[wire] (pbus.south) -- (busmeet) -- (cnet.south);

% --- E-net 4 ---
\boxrow{277.7}{ipd/1708.4/13.4/IP,subd/1737.4/30.4/Subnet,gated/1770/21.4/Gate,smtpd/1804.4/31.2/Smtp,portd/1844.3/31.7/Port,emaild/1887.4/32/Email,protd/1928/31.3/Protcl}
\noterow{portdnote/1844.5/305.7/Numeric\\entry}
\boxrow{302}{smad/1928/31.7/Sma,enqd/1966/31.3/Enq}
\boxrow{327.3}{errlogd/1887.7/32.6/Errlog,scommd/1926.2/31.3/Scomm,ghostd/1964.7/32/Ghost}
\draw[wire] (efour) -- (ipd) -- (subd) -- (gated) -- (smtpd) -- (portd) -- (emaild) -- (protd);
\draw[wire] (portd) -- (portdnote) (protd) -- (smad) -- (enqd);
\draw[wire] (emaild) -- (errlogd) -- (scommd) -- (ghostd);

% --- rio ---
\boxrow{335.7}{rbaud/1670/25/baud,raddr/1701.5/24.6/raddr,rquatr/1733/26.8/rquatr,rtrack/1767.4/31.3/Itrack,riotype/1802.6/27.7/iotype}
\boxrow{362.7}{rout/1678/18.7/out,rin/1701.2/14.3/in,rtrade/1728.7/28/trade,rendian/1764.8/31.7/endian}
\coordinate (wrapa) at (1822.2,349);
\coordinate (wrapb) at (1662.9,349);
\draw[heavywire] (rio) -- (rbaud);
\draw[wire] (rbaud) -- (raddr) -- (rquatr) -- (rtrack) -- (riotype);
\draw[wire] (rout) -- (rin) -- (rtrade) -- (rendian);
\draw[heavywire] (riotype.east) -| (wrapa) -- (wrapb) |- (rout.west);

% --- E-net 3 ---
\boxrow{394.7}{ipc/1634.7/13.4/IP,subc/1664.5/30/Subnet,gatec/1701/21/Gate,outc/1739.4/18.3/Out,inc/1785.8/14.7/In,tradec/1831/24.5/Trade,endianc/1881.4/32.6/Endian}
\boxrow{417}{dataco/1739.2/43.7/Data 1-16,dataci/1785.6/42/Data 1-16,onc/1821.2/14.7/On,offc/1840.8/15.6/Off,littlec/1865.8/21.9/Little,bigc/1892.3/15.2/Big}
\noterow{editco/1739.6/440.3/edit,editci/1785.6/440.3/edit}
\draw[wire] (ethree) -- (ipc) -- (subc) -- (gatec) -- (outc) -- (inc) -- (tradec) -- (endianc);
\draw[wire] (outc) -- (dataco) -- (editco) (inc) -- (dataci) -- (editci);
\draw[heavywire] (tradec) -- (tradec |- onc);
\draw[wire] (onc) -- (offc) (endianc) -- (endianc |- littlec) (littlec) -- (bigc);

% --- E-net 2 ---
\boxrow{464.3}{ipb/1599/12.5/IP,subb/1628.5/30.4/Subnet,gateb/1665.5/22.3/Gate,outb/1703.2/18.3/Out,inb/1750/12.5/In,tradeb/1795.5/25.9/Trade,endianb/1845.2/32.6/Endian}
\boxrow{486.7}{databo/1704/43/Data 1-16,databi/1750/43.3/Data 1-16,onb/1785.8/16.5/On,offb/1805.2/16/Off,littleb/1830.8/22.3/Little,bigb/1856.6/15.2/Big}
\noterow{editbo/1703.5/510/edit,editbi/1750.4/510/edit}
\draw[wire] (etwo) -- (ipb) -- (subb) -- (gateb) -- (outb) -- (inb) -- (tradeb) -- (endianb);
\draw[wire] (outb) -- (databo) -- (editbo) (inb) -- (databi) -- (editbi);
\draw[wire] (tradeb) -- (tradeb |- onb) (onb) -- (offb) (endianb) -- (endianb |- littleb) (littleb) -- (bigb);

% --- E-net 1 ---
\boxrow{544}{ipa/1561.2/13.7/IP,suba/1588.5/30.4/Subnet,gatea/1619/21.4/Gate,dhcpa/1649/27.3/Dhcp,smtpa/1680/27.3/Smtp,hosta/1715/31.3/Host IP,porta/1754/31.4/Port,emaila/1799/31.3/Email,prota/1839.5/32.3/Protcl}
\noterow{portanote/1754.3/571.7/Numeric\\entry}
\boxrow{568.3}{smaa/1839/31.7/Sma,enqa/1877.5/31.7/Enq}
\boxrow{593.3}{errloga/1799/31.3/Errlog,scomma/1837.5/32.3/Scomm,ghosta/1876/31.3/Ghost}
\draw[wire] (eone) -- (ipa) -- (suba) -- (gatea) -- (dhcpa) -- (smtpa) -- (hosta) -- (porta) -- (emaila) -- (prota);
\draw[wire] (porta) -- (portanote) (smaa) -- (enqa);
\draw[heavywire] (prota) -- (smaa);
\draw[wire] (emaila) -- (errloga) -- (scomma) -- (ghosta);

% --- D-net / P-bus / C-net row ---
\boxrow{585.3}{dnode/1454/25.4/Node,dout/1532.7/18/Out,din/1579/13.4/In,dtrade/1624.5/26.4/Trade,dendian/1674/33.4/Endian}
\node[menubox,minimum width=25.4pt,fill=black,text=white] (dbaud) at (1494,585.3) {Baud};
\boxrow{607.7}{ddatao/1532.5/42.4/Data 1-16,ddatai/1579/43.4/Data 1-16,don/1614.2/15.7/On,doff/1633.5/16.4/Off,dlittle/1659.5/22.4/Little,dbig/1685.5/16.4/Big}
\noterow{strout/1532.7/631/String edit,strin/1579/631/String edit,dnodenote/1453.7/610.7/Numeric\\entry}
\node[notetxt,font=\fontsize{10}{11.3}\selectfont] (fornote) at (1494.3,537.3) {For D-net\\and P-bus\\only};
\draw[wire] (dnet) -- (dnode) -- (dbaud) -- (dout) -- (din) -- (dtrade) -- (dendian);
\draw[wire] (dout) -- (ddatao) -- (strout) (din) -- (ddatai) -- (strin);
\draw[wire] (dtrade) -- (dtrade |- don) (don) -- (doff) (dendian) -- (dendian |- dlittle);
\draw[heavywire] (dlittle) -- (dbig);
\draw[-{Stealth[length=9pt,width=6pt]},line width=1.6pt] (fornote) -- (dbaud);

% --- Test menu detail, lower right ---
\node[bignote] (bignormal) at (1716.3,1002.5) {Normal Operation Mode};
\node[bignote] (bigpress) at (1716.3,1053.8) {Press and hold \textbf{ESC} for 3-5 seconds};
\node[bigbox] (bigpass) at (1709.4,1106.6) {PASS\_};
\node[bignote] (bigkey) at (1716.3,1164.8) {Key in 111 and press \textbf{ENTER}};
\node[bigbox,minimum height=37pt] (bigtest) at (1709.4,1236.4) {Test};
\node[bigbox,minimum height=37pt] (bigaudit) at (1857.2,1236.4) {Audit};
\node[bigbox] (bigcfg) at (1816,1294) {CFG};
\node[bigbox] (bigcal) at (1898.3,1294) {CAL};
\node[bigbox] (bigabout) at (1709.4,1354.8) {About};
\node[bigbox] (bigadc) at (1826.2,1354.8) {Adc};
\node[bigbox] (bigdisplay) at (1919.9,1354.8) {Display};
\node[bigbox] (bigbutton) at (2054.5,1354.8) {Button};
\node[bigbox] (bigserial) at (2242.5,1354.8) {Serial};
\node[bignote] (bigaboutnote) at (1709.4,1432) {Software\\version\\and revision};
\node[bignote] (bigadcnote) at (1826.5,1409.3) {mV/V};
\node[bignote] (bigdispnote) at (1920.7,1420.7) {Display\\test};
\node[bignote] (bigbuttonnote) at (2054.4,1420.7) {Button\\test};
\node[bigbox] (bigport1) at (2167,1417) {Port 1};
\node[bigbox] (bigport2) at (2318,1417) {Port 2};
\node[bigbox,minimum width=118pt] (bigloop1) at (2167,1472.8) {Loop/nLoop};
\node[bigbox,minimum width=118pt] (bigloop2) at (2318,1472.8) {Loop/nLoop};
\draw[wire] (bigpass |- bignormal.south) -- (bigpass |- bigpress.north);
\draw[wire] (bigpass |- bigpress.south) -- (bigpass.north);
\draw[wire] (bigpass.south) -- (bigpass |- bigkey.north);
\draw[wire] (bigpass |- bigkey.south) -- (bigtest.north);
\draw[line width=1.6pt] (bigtest) -- (bigaudit);
\draw[wire] (bigaudit) -- (bigaudit |- bigcfg) (bigcfg) -- (bigcal);
\draw[wire] (bigtest) -- (bigabout) -- (bigadc) -- (bigdisplay) -- (bigbutton) -- (bigserial);
\draw[wire] (bigadc) -- (bigadcnote) (bigdisplay) -- (bigdispnote) (bigbutton) -- (bigbuttonnote);
\draw[wire] (bigserial) -- (bigserial |- bigport1) (bigport1) -- (bigport2);
\draw[wire] (bigport1) -- (bigloop1) (bigport2) -- (bigloop2);

\end{tikzpicture}
\end{document}
